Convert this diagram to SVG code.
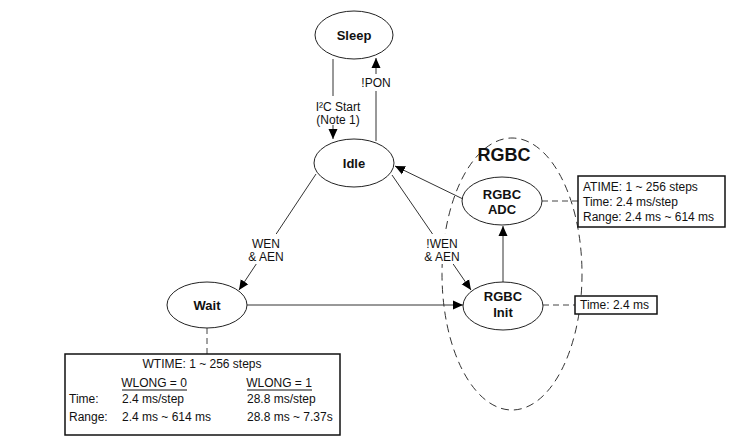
<svg xmlns="http://www.w3.org/2000/svg" width="747" height="441" viewBox="0 0 747 441">
<style>
.node{fill:#fff;stroke:#222;stroke-width:1}
.nl{font-family:"Liberation Sans",Arial,sans-serif;font-weight:bold;font-size:13px;fill:#111;text-anchor:middle}
.t{font-family:"Liberation Sans",Arial,sans-serif;font-size:12px;fill:#111}
.c{text-anchor:middle}
.edge{stroke:#333;stroke-width:1;fill:none}
.dash{stroke:#444;stroke-width:1;fill:none;stroke-dasharray:6,4}
.box{fill:#fff;stroke:#111;stroke-width:1.5}
</style>
<defs>
<marker id="ah" viewBox="0 0 10 10" refX="10" refY="5" markerWidth="10" markerHeight="10" markerUnits="userSpaceOnUse" orient="auto">
<path d="M0,0.5 L10,5 L0,9.5 z" fill="#000"/>
</marker>
</defs>
<rect width="747" height="441" fill="#fff"/>
<g id="rgbc-group">
<ellipse cx="512" cy="274" rx="70" ry="136" fill="none" stroke="#333" stroke-width="1" stroke-dasharray="8,5"/>
<text x="504" y="161" font-family="'Liberation Sans',Arial,sans-serif" font-weight="bold" font-size="18" text-anchor="middle" fill="#111">RGBC</text>
</g>
<g id="connectors">
<line class="edge" x1="333" y1="59" x2="333" y2="139" marker-end="url(#ah)"/>
<line class="edge" x1="376" y1="141" x2="376" y2="58" marker-end="url(#ah)"/>
<line class="edge" x1="316" y1="174" x2="239" y2="290" marker-end="url(#ah)"/>
<line class="edge" x1="392" y1="175" x2="471" y2="290" marker-end="url(#ah)"/>
<line class="edge" x1="463" y1="199" x2="395" y2="166" marker-end="url(#ah)"/>
<line class="edge" x1="247" y1="305" x2="463" y2="305" marker-end="url(#ah)"/>
<line class="edge" x1="503" y1="282" x2="503" y2="226" marker-end="url(#ah)"/>
<line class="dash" x1="542" y1="201" x2="578" y2="201"/>
<line class="dash" x1="543" y1="305" x2="575" y2="305"/>
<line class="dash" x1="207" y1="328" x2="207" y2="354"/>
<rect x="306" y="96" width="64" height="29" fill="#fff"/>
<text class="t c" x="338" y="111">I²C Start</text>
<text class="t c" x="338" y="124">(Note 1)</text>
<rect x="356" y="74" width="40" height="17" fill="#fff"/>
<text class="t c" x="376" y="87">!PON</text>
<rect x="244" y="234" width="44" height="30" fill="#fff"/>
<text class="t c" x="266" y="248">WEN</text>
<text class="t c" x="266" y="261">&amp; AEN</text>
<rect x="420" y="234" width="46" height="30" fill="#fff"/>
<text class="t c" x="442" y="248">!WEN</text>
<text class="t c" x="442" y="261">&amp; AEN</text>
</g>
<g id="sleep">
<ellipse class="node" cx="354" cy="35" rx="39" ry="24"/>
<text class="nl" x="354" y="40">Sleep</text>
</g>
<g id="idle">
<ellipse class="node" cx="354" cy="163" rx="40" ry="24"/>
<text class="nl" x="354" y="168">Idle</text>
</g>
<g id="wait">
<ellipse class="node" cx="207" cy="305" rx="40" ry="23"/>
<text class="nl" x="207" y="310">Wait</text>
</g>
<g id="rgbc-adc">
<ellipse class="node" cx="502" cy="201" rx="40" ry="24"/>
<text class="nl" x="502" y="199">RGBC</text>
<text class="nl" x="502" y="214">ADC</text>
</g>
<g id="rgbc-init">
<ellipse class="node" cx="503" cy="306" rx="40" ry="24"/>
<text class="nl" x="503" y="301">RGBC</text>
<text class="nl" x="503" y="317">Init</text>
</g>
<g id="atime-box">
<rect class="box" x="578" y="176" width="147" height="51"/>
<text class="t" x="583" y="191">ATIME: 1 ~ 256 steps</text>
<text class="t" x="583" y="206">Time: 2.4 ms/step</text>
<text class="t" x="583" y="221">Range: 2.4 ms ~ 614 ms</text>
</g>
<g id="init-time-box">
<rect class="box" x="575" y="296" width="82" height="18"/>
<text class="t" x="580" y="309">Time: 2.4 ms</text>
</g>
<g id="wtime-box">
<rect class="box" x="65" y="354" width="275" height="81"/>
<text class="t c" x="202" y="368">WTIME: 1 ~ 256 steps</text>
<text class="t c" x="154" y="387">WLONG = 0</text>
<line x1="122" y1="390" x2="187" y2="390" stroke="#111" stroke-width="1"/>
<text class="t c" x="279" y="387">WLONG = 1</text>
<line x1="247" y1="390" x2="312" y2="390" stroke="#111" stroke-width="1"/>
<text class="t" x="69" y="403">Time:</text>
<text class="t" x="122" y="403">2.4 ms/step</text>
<text class="t" x="247" y="403">28.8 ms/step</text>
<text class="t" x="69" y="421">Range:</text>
<text class="t" x="122" y="421">2.4 ms ~ 614 ms</text>
<text class="t" x="247" y="421">28.8 ms ~ 7.37s</text>
</g>
</svg>
